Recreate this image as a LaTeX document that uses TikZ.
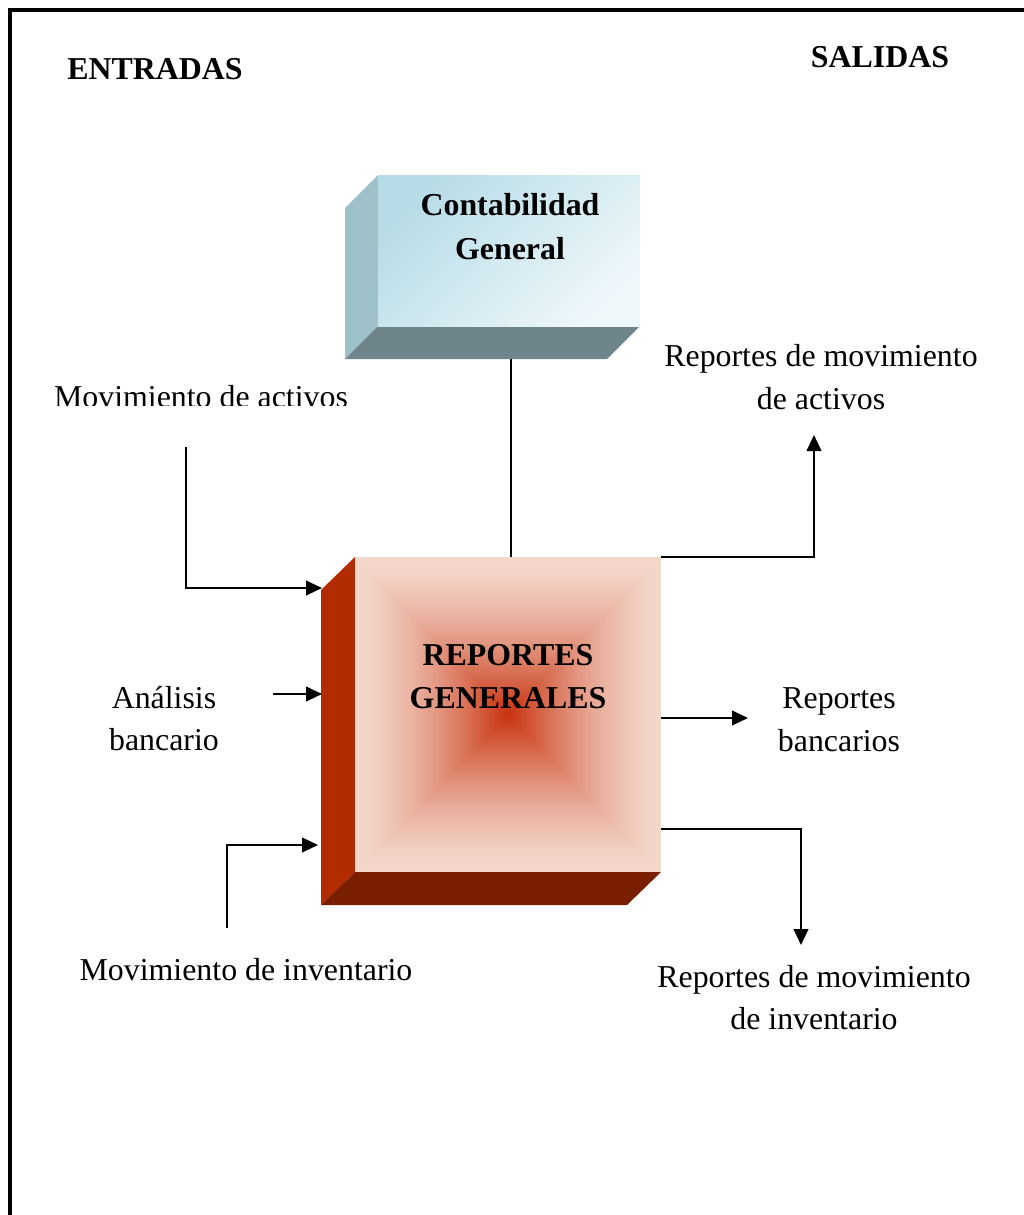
\documentclass[tikz,border=0pt]{standalone}
\usepackage{fontspec}
\setmainfont{Liberation Serif}
\usetikzlibrary{arrows.meta}
\definecolor{cgA}{HTML}{B7DCE7}
\definecolor{cgB}{HTML}{EEF7FA}
\definecolor{cgside}{HTML}{9FC1C9}
\definecolor{cgbot}{HTML}{6E868B}
\definecolor{rgout}{HTML}{F4D7CB}
\definecolor{rgin}{HTML}{C8300C}
\definecolor{rgside}{HTML}{B32B00}
\definecolor{rgbot}{HTML}{7A1E00}
\begin{document}
\begin{tikzpicture}[x=0.75pt,y=-0.75pt,
  lbl/.style={font=\fontsize{23.9}{32}\selectfont, anchor=base, inner sep=0pt},
  bld/.style={lbl, font=\fontsize{23.9}{32}\selectfont\bfseries},
  wire/.style={line width=1.5pt},
  conn/.style={line width=1.5pt, -{Triangle[length=12pt,width=11pt]}}]
\useasboundingbox (0,0) rectangle (1024,1215);

% frame
\draw[line width=3pt] (10,1230) -- (10,9.5) -- (1040,9.5);

% headings
\node[bld] (entradas) at (155,79) {ENTRADAS};
\node[bld] (salidas) at (880,67) {SALIDAS};

% Contabilidad General box
\fill[cgside] (345,208) -- (378,175) -- (378,326) -- (345,359) -- cycle;
\fill[cgbot] (345,359) -- (378,326) -- (640,326) -- (607,359) -- cycle;
\shade[top color=cgA, bottom color=cgB, shading angle=45] (378,175) rectangle (640,326);
\node[bld] (cg1) at (510,215) {Contabilidad};
\node[bld] (cg2) at (510,259) {General};
\coordinate (cgB) at (511,359);

% Reportes Generales box
\fill[rgside] (321,590) -- (355,557) -- (355,872) -- (321,905) -- cycle;
\fill[rgbot] (321,905) -- (355,872) -- (661,872) -- (627,905) -- cycle;
\foreach \i in {0,...,59} {
  \pgfmathsetmacro\t{\i/60}
  \pgfmathsetmacro\p{100*(\t^1.5)}
  \pgfmathsetmacro\hw{153*(1-\t)}
  \pgfmathsetmacro\hh{157.5*(1-\t)}
  \fill[color=rgin!\p!rgout] (508-\hw,714.5-\hh) rectangle (508+\hw,714.5+\hh);
}
\node[bld] (rg1) at (508,665) {REPORTES};
\node[bld] (rg2) at (508,708) {GENERALES};
\coordinate (rgT) at (511,557);
\coordinate (rgTR) at (661,557);
\coordinate (rgR) at (661,718);
\coordinate (rgBR) at (661,829);
\coordinate (rgL1) at (322,588);
\coordinate (rgL2) at (322,694);
\coordinate (rgL3) at (318,845);

% link between boxes
\draw[wire] (cgB) -- (rgT);

% inputs
\begin{scope}
  \clip (0,0) rectangle (1024,405);
  \node[lbl] (mact) at (201,407) {Movimiento de activos};
\end{scope}
\coordinate (in1) at (186,447);
\draw[conn] (in1) |- (rgL1);

\node[lbl] (ab1) at (164,708) {Análisis};
\node[lbl] (ab2) at (164,750) {bancario};
\coordinate (in2) at (273,694);
\draw[conn] (in2) -- (rgL2);

\node[lbl] (minv) at (246,980) {Movimiento de inventario};
\coordinate (in3) at (227,928);
\draw[conn] (in3) |- (rgL3);

% outputs
\node[lbl] (ra1) at (821,366) {Reportes de movimiento};
\node[lbl] (ra2) at (821,409) {de activos};
\coordinate (out1) at (814,435);
\draw[conn] (rgTR) -| (out1);

\node[lbl] (rb1) at (839,708) {Reportes};
\node[lbl] (rb2) at (839,751) {bancarios};
\coordinate (out2) at (748,718);
\draw[conn] (rgR) -- (out2);

\node[lbl] (ri1) at (814,987) {Reportes de movimiento};
\node[lbl] (ri2) at (814,1029) {de inventario};
\coordinate (out3) at (801,945);
\draw[conn] (rgBR) -| (out3);
\end{tikzpicture}
\end{document}
